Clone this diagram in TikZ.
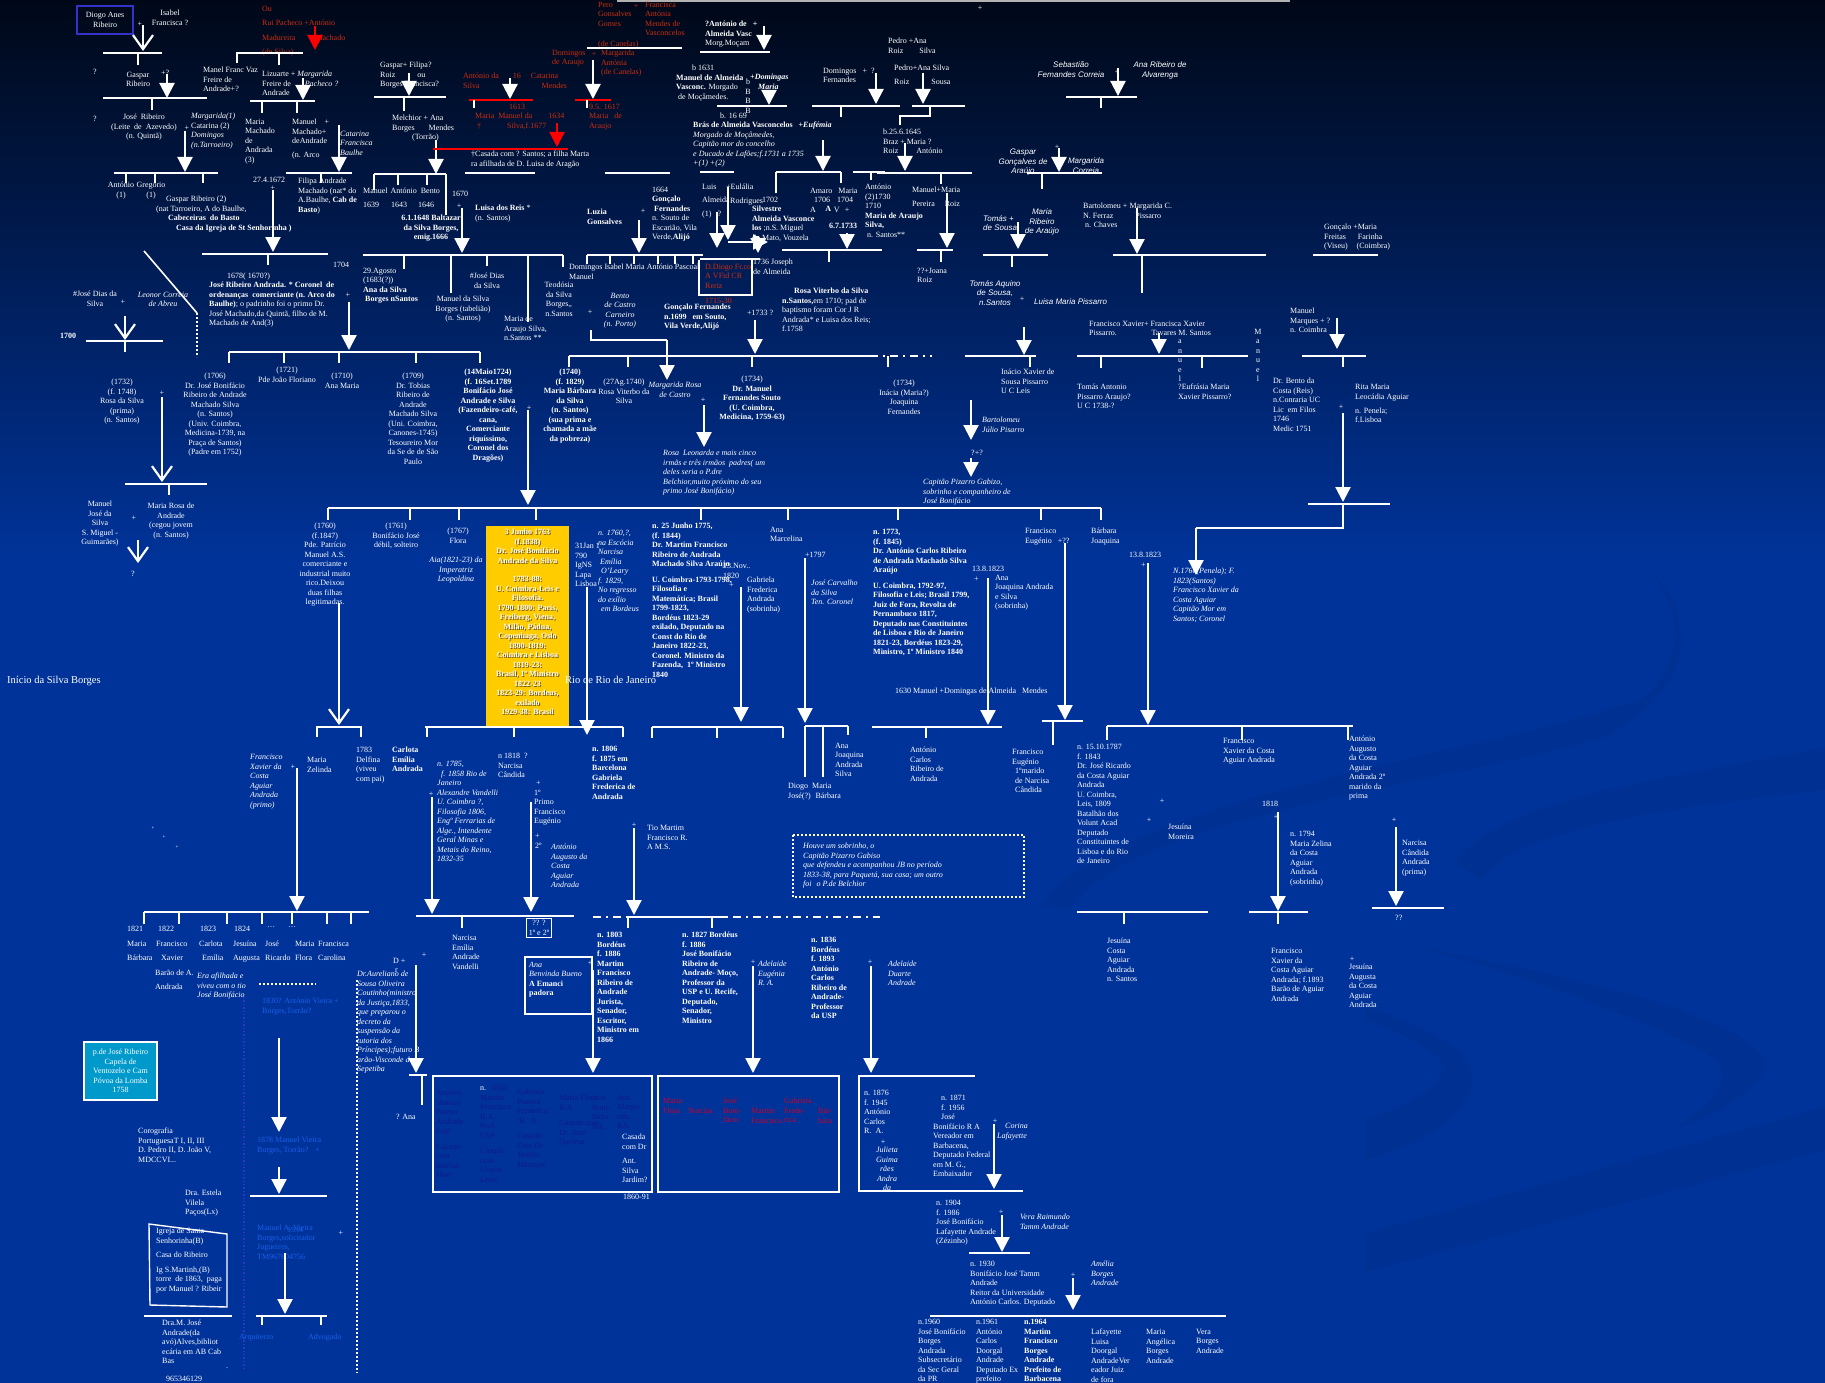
\documentclass[tikz,border=0pt]{standalone}
\usepackage{fontspec}
\setmainfont{Liberation Serif}
\setsansfont{Liberation Sans}
\usetikzlibrary{arrows.meta}
\definecolor{bgtop}{RGB}{0,8,24}
\definecolor{bgblue}{RGB}{0,51,153}
\definecolor{redtxt}{RGB}{205,45,15}
\definecolor{boxred}{RGB}{205,0,40}
\definecolor{navytxt}{RGB}{15,25,140}
\definecolor{vieira}{RGB}{25,95,235}
\definecolor{gold}{RGB}{255,204,0}
\definecolor{capela}{RGB}{0,153,204}
\definecolor{frame}{RGB}{51,51,204}
\definecolor{shadow}{RGB}{110,80,0}
\newcommand{\fs}{\fontsize{8}{9.5}\selectfont}
\newcommand{\famline}[4]{\coordinate (#1-l) at (#2,#4); \coordinate (#1-r) at (#3,#4); \draw[famline] (#1-l) -- (#1-r);}
\newcommand{\drop}[4]{\coordinate (#1-t) at (#2,#3); \coordinate (#1-b) at (#2,#4); \draw[famline] (#1-t) -- (#1-b);}
\newcommand{\desc}[4]{\coordinate (#1-s) at (#2,#3); \coordinate (#1-e) at (#2,#4); \draw[arw] (#1-s) -- (#1-e);}
\newcommand{\vdesc}[4]{\coordinate (#1-s) at (#2,#3); \coordinate (#1-e) at (#2,#4); \draw[varw] (#1-s) -- (#1-e);}
\newcommand{\rdesc}[4]{\coordinate (#1-s) at (#2,#3); \coordinate (#1-e) at (#2,#4); \draw[rarw] (#1-s) -- (#1-e);}
\newcommand{\spouse}[3]{\node[pl] (#1) at (#2,#3) {+};}
\newcommand{\jbtext}{3 Junho 1763\\(f.1838)\\Dr. José Bonifácio\\Andrade da Silva\\[9pt]1783-88:\\U. Coimbra-Leis e\\Filosofia.\\1790-1800: Paris,\\Freiberg, Viena,\\Milão, Pádua,\\Copenhaga, Oslo\\1800-1819:\\Coimbra e Lisboa\\1819-23:\\Brasil, 1º Ministro\\1822-23\\1823-29: Bordeus,\\exilado\\1929-38: Brasil}
\begin{document}
\begin{tikzpicture}[x=1pt,y=-1pt,
  tx/.style={text=white,font=\fs,inner sep=0pt,align=left,anchor=north west},
  tc/.style={tx,align=center,anchor=north},
  tb/.style={font=\fs\bfseries},
  ti/.style={font=\fs\itshape},
  ts/.style={font=\fs\sffamily\itshape},
  tr/.style={text=redtxt},
  nv/.style={text=navytxt},
  vb/.style={text=vieira},
  pl/.style={text=white,font=\fs,inner sep=0pt},
  famline/.style={draw=white,line width=2.2pt},
  arw/.style={white,line width=2.2pt,-{Triangle[length=15pt,width=15pt]}},
  varw/.style={white,line width=2.2pt,-{Straight Barb[length=14pt,width=20pt]}},
  rarw/.style={red,line width=2.2pt,-{Triangle[length=15pt,width=15pt]}},
  boxline/.style={draw=white,line width=2pt}]
\useasboundingbox (0,0) rectangle (1825,1383);
\shade[top color=bgtop,bottom color=bgblue] (0,0) rectangle (1825,560);
\fill[bgblue] (0,559) rectangle (1825,1383);
\fill[black,opacity=.05] (1040,905) .. controls (1120,800) and (1450,760) .. (1640,700) .. controls (1690,660) and (1680,600) .. (1642,563) .. controls (1700,610) and (1700,690) .. (1600,740) .. controls (1400,790) and (1130,820) .. (1070,910) -- cycle;
\fill[black,opacity=.05] (1455,862) .. controls (1500,800) and (1650,780) .. (1825,748) -- (1825,790) .. controls (1650,810) and (1520,830) .. (1480,880) -- cycle;
\fill[black,opacity=.05] (1365,1007) .. controls (1440,1030) and (1500,1060) .. (1460,1110) .. controls (1430,1140) and (1400,1150) .. (1365,1160) -- (1365,1120) .. controls (1420,1100) and (1450,1080) .. (1440,1060) .. controls (1420,1040) and (1390,1030) .. (1365,1020) -- cycle;
\fill[black,opacity=.05] (1365,1233) -- (1825,1107) -- (1825,1150) -- (1365,1272) -- cycle;
\fill[black,opacity=.05] (1415,947) .. controls (1600,980) and (1800,1030) .. (1760,1080) .. controls (1730,1110) and (1700,1120) .. (1672,1130) .. controls (1720,1100) and (1740,1070) .. (1700,1050) .. controls (1600,1000) and (1500,970) .. (1415,947) -- cycle;
\draw[gray!60,line width=1.5pt] (617,1) -- (1290,1);
\node[pl] (topplus) at (980,8) {+};

% Ribeiro line, top left
\node[tc,draw=frame,line width=1.2pt,minimum width=56pt,minimum height=28pt,anchor=center] (diogo) at (105,20) {Diogo Anes\\Ribeiro};
\node[tc] (isabel) at (170,10) {Isabel\\Francisca ?};
\spouse{p-di}{140}{24}
\vdesc{v-di}{143}{25}{51}
\famline{f-di}{103}{162}{53}
\drop{d-di}{138}{53}{65}
\node[tc] (q1) at (95,69) {?};
\node[tc] (gaspar) at (138,72) {Gaspar\\Ribeiro};
\node[tx] (gq) at (161,70) {+?};
\desc{a-ga}{167}{74}{98}
\famline{f-ga}{103}{207}{98}
\drop{d-ga}{152}{98}{110}
\node[tc] (q2) at (95,116) {?};
\node[tc] (joseR) at (144,114) {José \hspace{2pt}Ribeiro\\(Leite \hspace{2pt}de \hspace{2pt}Azevedo)\\(n. Quintã)};
\spouse{p-jr}{187}{128}
\node[tx] (marg) at (191,113) {\textit{Margarida(1)}\\Catarina (2)\\\textit{Domingos}\\\textit{(n.Tarroeiro)}};
\desc{a-jr}{185}{131}{172}
\famline{f-jr}{114}{218}{173}
\foreach \x in {126,155,203} {\drop{d-jr\x}{\x}{173}{183}}
\node[tc] (antonio1) at (121,182) {António\\(1)};
\node[tc] (gregorio) at (151,182) {Gregório\\(1)};
\node[tx] (gaspar2) at (156,196) {\hspace{10pt}Gaspar Ribeiro (2)\\(nat Tarroeiro, A do Baulhe,\\\textbf{\hspace{12pt}Cabeceiras \hspace{2pt}do Basto}\\\textbf{\hspace{20pt}Casa da Igreja de St Senhorinha )}};

\node[tx,tr] (ou) at (262,6) {Ou\\[5pt]Rui Pacheco +António\\[5pt]Madureira \hspace{18pt}Machado\\[5pt](de Silva)};
\rdesc{a-ou}{315}{26}{50}
\coordinate (mf-a) at (237,63); \coordinate (mf-b) at (303,53);
\draw[famline] (mf-a) |- (mf-b);
\drop{d-mf}{279}{53}{65}
\node[tx] (manel) at (203,67) {Manel Franc Vaz\\Freire de\\Andrade+?};
\node[tx] (lizuarte) at (262,71) {Lizuarte + \textit{Margarida}\\Freire de \hspace{12pt}\textit{Pacheco ?}\\Andrade};
\desc{a-li}{303}{78}{100}
\famline{f-li}{250}{315}{101}
\foreach \x in {262,297} {\drop{d-li\x}{\x}{101}{113}}
\node[tx] (mariaM) at (245,119) {Maria\\Machado\\de\\Andrada\\(3)};
\node[tx] (manuelM) at (292,119) {Manuel \hspace{6pt}+\\Machado+\\deAndrade\\[4pt](n. Arco};
\desc{a-mm}{339}{125}{172}
\node[tx,ti] (catarina) at (340,131) {Catarina\\Francisca\\Baulhe};
\famline{f-mm}{286}{352}{173}
\drop{d-mm}{321}{173}{183}
\node[tx] (filipa) at (298,178) {Filipa Andrade\\Machado (nat* do\\A.Baulhe, \textbf{Cab de}\\\textbf{Basto})};
\node[tx] (d1672) at (253,177) {27.4.1672};
\spouse{p-1672}{273}{188}
\desc{a-1672}{273}{190}{252}
\famline{f-1672}{202}{328}{254}
\drop{d-1672}{268}{254}{265}
\node[tx] (y1678) at (227,273) {1678( 1670?)};
\node[tx] (joseRA) at (209,282) {\textbf{José Ribeiro Andrada. * Coronel \hspace{2pt}de}\\\textbf{ordenanças \hspace{2pt}comerciante (n. Arco do}\\\textbf{Baulhe)}; o padrinho foi o primo Dr.\\José Machado,da Quintã, filho de M.\\Machado de And(3)};
\coordinate (diag-a) at (144,251); \coordinate (diag-b) at (197,313); \coordinate (diag-c) at (197,357);
\draw[white,line width=1.6pt] (diag-a) -- (diag-b);
\draw[white,line width=1.6pt,dash pattern=on 1.6pt off 2.4pt] (diag-b) -- (diag-c);
\node[tc] (jdias) at (95,291) {\#José Dias da\\Silva};
\spouse{p-jd}{123}{302}
\node[tc,ti] (leonor) at (163,292) {Leonor Correia\\de Abreu};
\vdesc{v-jd}{125}{316}{340}
\famline{f-jd}{86}{163}{341}
\drop{d-jd}{125}{341}{352}
\node[tx,tb] (y1700) at (60,333) {1700};

% Borges line
\node[tx] (gaspar3) at (380,62) {Gaspar+ Filipa?\\Roiz \hspace{20pt}ou\\Borges Francisca?};
\desc{a-gb}{409}{73}{96}
\famline{f-gb}{374}{446}{97}
\drop{d-gb}{404}{97}{111}
\node[tx] (melchior) at (392,115) {Melchior + Ana\\Borges \hspace{12pt}Mendes\\\hspace{20pt}(Torrão)};
\desc{a-me}{436}{140}{174}
\coordinate (rl-a) at (433,149); \coordinate (rl-b) at (568,149);
\draw[red,line width=2.2pt] (rl-a) -- (rl-b);
\famline{f-me}{374}{446}{174}
\drop{d-me1}{374}{174}{190}
\drop{d-me2}{398}{174}{185}
\drop{d-me3}{427}{174}{185}
\drop{d-me4}{446}{174}{215}
\node[tx] (manant) at (363,188) {Manuel \hspace{1pt}António \hspace{2pt}Bento\\[4pt]1639 \hspace{10pt}1643 \hspace{9pt}1646};
\node[tx] (y1670) at (452,191) {1670};
\spouse{p-1670}{459}{206}
\node[tc,tb] (baltazar) at (431,215) {6.1.1648 Baltazar\\da Silva Borges,\\emig.1666};
\node[tx] (luisa) at (475,205) {\textbf{Luisa dos Reis} *\\(n. Santos)};
\desc{a-ba}{462}{208}{253}
\famline{f-ba}{363}{563}{255}
\drop{d-ba1}{404}{255}{269}
\drop{d-ba2}{451}{255}{293}
\drop{d-ba3}{487}{255}{266}
\drop{d-ba4}{528}{255}{322}
\drop{d-ba5}{563}{255}{267}
\node[tx] (y1704) at (333,262) {1704};
\spouse{p-1704}{348}{295}
\desc{a-1704}{349}{302}{350}
\node[tx] (anaSB) at (363,268) {29.Agosto\\(1683(?))\\\textbf{Ana da Silva}\\\textbf{\hspace{2pt}Borges nSantos}};
\node[tc] (manuelSB) at (463,296) {Manuel da Silva\\Borges (tabelião)\\(n. Santos)};
\node[tc] (jdias2) at (487,273) {\#José Dias\\da Silva};
\node[tx] (mariaAS) at (504,316) {Maria de\\Araujo Silva,\\n.Santos **};
\node[tc] (teodosia) at (559,282) {Teodósia\\da Silva\\Borges,,\\n.Santos};
\famline{f-jra}{229}{480}{352}
\foreach \x in {229,284,339,416,480} {\drop{d-jra\x}{\x}{352}{363}}
\node[tc] (jbonif1) at (215,373) {(1706)\\Dr. José Bonifácio\\Ribeiro de Andrade\\Machado Silva\\(n. Santos)\\(Univ. Coimbra,\\Medicina-1739, na\\Praça de Santos)\\(Padre em 1752)};
\node[tc] (floriano) at (287,367) {(1721)\\Pde João Floriano};
\node[tc] (anamaria) at (342,373) {(1710)\\Ana Maria};
\node[tc] (tobias) at (413,373) {(1709)\\Dr. Tobias\\Ribeiro de\\Andrade\\Machado Silva\\(Uni. Coimbra,\\Canones-1745)\\Tesoureiro Mor\\da Se de de São\\Paulo};
\node[tc,tb] (bonjose) at (488,369) {(14Maio1724)\\(f. 16Set.1789\\Bonifácio José\\Andrade e Silva\\(Fazendeiro-café,\\cana,\\Comerciante\\riquíssimo,\\Coronel dos\\Dragões)};
\node[tc] (rosaS) at (122,379) {(1732)\\(f. 1748)\\Rosa da Silva\\(prima)\\(n. Santos)};
\spouse{p-rs}{162}{393}
\vdesc{v-rs}{162}{397}{482}
\famline{f-rs}{125}{207}{484}
\drop{d-rs}{169}{484}{495}
\node[tc] (manuelJS) at (100,501) {Manuel\\José da\\Silva\\S. Miguel -\\Guimarães)};
\spouse{p-mj}{134}{518}
\node[tc] (mariaRA) at (171,503) {Maria Rosa de\\Andrade\\(cegou jovem\\(n. Santos)};
\vdesc{v-mj}{138}{540}{563}
\node[tc] (q3) at (133,571) {?};
\node[tx,font=\fontsize{10.5}{12}\selectfont] (inacioSB) at (7,676) {Início da Silva Borges};

% Canelas and Almeida, top centre
\node[tx,tr] (pero) at (598,2) {Pero\\Gonsalves\\Gomes};
\node[pl,text=redtxt] (p-pero) at (636,6) {+};
\node[tx,tr] (francisca) at (645,2) {Francisca\\Antónia\\Mendes de\\Vasconcelos};
\node[tx,tr] (canelas1) at (598,41) {(de Canelas)};
\famline{f-pe}{587}{682}{48}
\node[tx,tr] (domingosA) at (552,50) {Domingos\\de Araujo};
\node[pl,text=redtxt] (p-doma) at (594,54) {+};
\node[tx,tr] (margA) at (601,50) {Margarida\\Antónia\\(de Canelas)};
\desc{a-doma}{593}{60}{99}
\node[tx,tr] (antonioS) at (463,73) {António da \hspace{12pt}16 \hspace{8pt}Catarina\\Silva \hspace{60pt}Mendes};
\desc{a-as}{510}{78}{99}
\coordinate (rb1-l) at (469,100); \coordinate (rb1-r) at (533,100);
\coordinate (rb2-l) at (575,100); \coordinate (rb2-r) at (611,100);
\draw[red,line width=2.2pt] (rb1-l) -- (rb1-r);
\draw[red,line width=2.2pt] (rb2-l) -- (rb2-r);
\drop{d-rb1}{474}{100}{108}
\drop{d-rb2}{587}{100}{108}
\node[tx,tr] (manuelS) at (475,104) {\hspace{34pt}1613\\Maria \hspace{2pt}Manuel da \hspace{14pt}1634\\\hspace{2pt}† \hspace{24pt}Silva,f.1677};
\node[tx,tr] (mariaAr) at (589,104) {9.5. 1617\\Maria \hspace{4pt}de\\Araujo};
\rdesc{a-ms}{557}{123}{147}
\node[tx] (casada) at (471,151) {†Casada com ? Santos; a filha Marta\\ra afilhada de D. Luisa de Aragão};
\famline{f-ca1}{465}{535}{173}
\famline{f-ca2}{605}{670}{173}
\node[tx] (antAV) at (705,21) {\textbf{?António de \hspace{4pt}+}\\\textbf{Almeida Vasc}\\Morg.Moçam};
\desc{a-aav}{764}{26}{50}
\famline{f-aav}{700}{770}{52}
\node[tx] (manuelAV) at (676,65) {\hspace{16pt}b 1631\\\textbf{Manuel de Almeida}\\\textbf{Vasconc.} Morgado\\\hspace{2pt}de Moçâmedes.};
\node[tx,font=\fs\bfseries\itshape] (domingas) at (750,74) {+Domingas\\\hspace{8pt}Maria};
\node[tc] (bbb) at (748,79) {b\\B\\B\\B};
\desc{a-mav}{769}{90}{105}
\famline{f-mav}{717}{787}{106}
\node[tx] (b1669) at (720,113) {b. 16 69};
\node[tx] (bras) at (693,122) {\textbf{Brás de Almeida Vasconcelos \hspace{4pt}+\textit{Eufémia}}\\\textit{Morgado de Moçâmedes,}\\\textit{Capitão mor do concelho}\\\textit{e Ducado de Lafões;f.1731 a 1735}\\\textit{+(1) +(2)}};
\famline{f-br}{700}{734}{172}
\node[tx] (luis) at (702,184) {Luis\\[4pt]Almeida\\[4pt](1) \hspace{4pt}?};
\node[tx] (eulalia) at (726,184) {+Eulália\\[4pt]\hspace{4pt}Rodrigues};
\node[tx] (y1702) at (762,197) {1702};
\desc{a-lu1}{717}{212}{248}
\desc{a-lu2}{728}{187}{240}
\coordinate (rt-a) at (728,242); \coordinate (rt-b) at (768,242);
\draw[arw] (rt-a) -- (rt-b);
\desc{a-lu3}{758}{236}{253}
\node[tx] (silvestre) at (752,206) {\textbf{Silvestre \hspace{42pt}A}\\\textbf{Almeida Vasconce}\\\textbf{los} ;n.S. Miguel\\do Mato, Vouzela};
\famline{f-dd}{700}{760}{259}
\coordinate (bx-a) at (699,260); \coordinate (bx-b) at (752,295); \coordinate (bx-c) at (752,259);
\draw[famline] (bx-a) |- (bx-b) -- (bx-c);
\node[tx,tr] (diogoF) at (705,264) {D.Diogo Fr.co\\A VFid CR\\Reriz};
\node[tx,tr] (y1715) at (705,298) {1715-30};
\node[tx] (joseph) at (753,259) {1736 Joseph\\de Almeida};
\famline{f-gf}{587}{703}{255}
\foreach \x in {587,610,634,658,675,693} {\drop{d-gf\x}{\x}{255}{264}}
\node[tx] (domrow) at (569,264) {Domingos Isabel Maria António Pascoal\\Manuel};
\node[tx,tb] (luzia) at (587,209) {Luzia\\Gonsalves};
\node[tx] (goncalo) at (652,187) {1664\\\textbf{Gonçalo}\\\textbf{\hspace{2pt}Fernandes}\\n. Souto de\\Escarião, Vila\\Verde,\textbf{Alijó}};
\spouse{p-go}{643}{211}
\desc{a-go}{639}{220}{253}
\node[tc,ti] (bento) at (620,293) {Bento\\de Castro\\Carneiro\\(n. Porto)};
\spouse{p-be}{590}{312}
\coordinate (be-a) at (591,330); \coordinate (be-b) at (667,340); \coordinate (be-c) at (667,380);
\draw[famline] (be-a) |- (be-b);
\draw[arw] (be-b) -- (be-c);
\node[tx,tb] (goncalo2) at (664,304) {Gonçalo Fernandes\\n.1699 \hspace{4pt}em Souto,\\Vila Verde,Alijó};
\node[tx] (y1733) at (747,310) {+1733 ?};
\desc{a-1733}{755}{320}{354}
\node[tx] (rosaVS) at (782,288) {\hspace{12pt}\textbf{Rosa Viterbo da Silva}\\\textbf{n.Santos,}em 1710; pad de\\baptismo foram Cor J R\\Andrada* e Luisa dos Reis;\\f.1758};
\famline{f-rv}{569}{870}{356}
\coordinate (rvd-a) at (870,356); \coordinate (rvd-b) at (932,356);
\draw[white,line width=2.2pt,dash pattern=on 8pt off 5pt on 2pt off 5pt] (rvd-a) -- (rvd-b);
\foreach \x in {569,628,752,888} {\drop{d-rv\x}{\x}{356}{367}}
\node[tc,tb] (mbarbara) at (570,369) {(1740)\\(f. 1829)\\Maria Bárbara\\da Silva\\(n. Santos)\\(sua prima e\\chamada a mãe\\da pobreza)};
\node[tc] (rosaV) at (624,379) {(27Ag.1740)\\Rosa Viterbo da\\Silva};
\node[tc,ti] (margRC) at (675,382) {Margarida Rosa\\de Castro};
\spouse{p-mr}{703}{400}
\desc{a-mr}{704}{405}{447}
\node[tc] (manuelFS) at (752,376) {(1734)\\\textbf{Dr. Manuel}\\\textbf{Fernandes Souto}\\\textbf{(U. Coimbra,}\\\textbf{Medicina, 1759-63)}};
\node[tx,ti] (rosaL) at (663,450) {Rosa \hspace{2pt}Leonarda e mais cinco\\irmãs e três irmãos \hspace{2pt}padres( um\\deles seria o P.dre\\Belchior,muito próximo do seu\\primo José Bonifácio)};
\node[tc] (inacia) at (904,380) {(1734)\\Inácia (Maria?)\\Joaquina\\Fernandes};
\spouse{p-bj}{529}{408}
\desc{a-bj}{528}{410}{505}

% upper right
\node[tx] (domF) at (823,68) {Domingos \hspace{4pt}+ \hspace{2pt}?\\Fernandes};
\desc{a-df}{876}{73}{104}
\famline{f-df}{812}{900}{106}
\drop{d-df}{841}{106}{117}
\node[tx] (pedro1) at (888,38) {Pedro +Ana\\Roiz \hspace{14pt}Silva};
\node[tx] (pedro2) at (894,65) {Pedro+Ana Silva\\[4pt]Roiz \hspace{20pt}Sousa};
\desc{a-pe}{923}{73}{104}
\famline{f-pe2}{912}{965}{106}
\drop{d-pe}{930}{106}{117}
\coordinate (pc-a) at (930,116); \coordinate (pc-b) at (900,125);
\draw[famline] (pc-a) -| (pc-b);
\node[tx] (braz) at (883,129) {b.25.6.1645\\Braz + Maria ?\\Roiz \hspace{16pt}António};
\desc{a-bz}{905}{143}{171}
\famline{f-bz}{877}{972}{173}
\drop{d-bz}{941}{173}{184}
\node[tx] (manuelP) at (912,187) {Manuel+Maria\\[4pt]Pereira \hspace{8pt}Roiz};
\desc{a-mp}{947}{193}{248}
\famline{f-mp}{917}{953}{250}
\drop{d-mp}{941}{250}{262}
\node[tx] (joana) at (917,268) {??+Joana\\Roiz};
\desc{a-am}{823}{140}{171}
\famline{f-am}{776}{841}{172}
\drop{d-am1}{776}{172}{193}
\drop{d-am2}{841}{172}{183}
\node[tx] (amaro) at (810,188) {Amaro \hspace{4pt}Maria\\\hspace{4pt}1706 \hspace{5pt}1704\\A \hspace{16pt}V \hspace{3pt}+};
\node[tx,tb] (d1733) at (829,223) {6.7.1733};
\desc{a-6733}{847}{233}{249}
\famline{f-6733}{782}{882}{250}
\drop{d-6733}{829}{250}{262}
\famline{f-an}{853}{885}{172}
\drop{d-an}{871}{172}{180}
\node[tx] (mariaAS2) at (865,184) {António\\(2)1730\\1710\\\textbf{Maria de Araujo}\\\textbf{Silva,}\\\hspace{2pt}n. Santos**};
\node[tc,ts] (sebastiao) at (1071,62) {Sebastião\\Fernandes Correia};
\spouse{p-se}{1117}{72}
\node[tc,ts] (anaRA) at (1160,62) {Ana Ribeiro de\\Alvarenga};
\desc{a-se}{1118}{68}{96}
\famline{f-se}{1066}{1137}{97}
\drop{d-se}{1101}{97}{108}
\node[tc,ts] (gasparGA) at (1023,149) {Gaspar\\Gonçalves de\\Araújo};
\node[tc,ts] (margC) at (1086,158) {Margarida\\Correia};
\spouse{p-gg}{1057}{147}
\desc{a-gg}{1059}{148}{172}
\famline{f-gg}{1027}{1102}{173}
\drop{d-gg}{1042}{173}{189}
\node[tx,ts] (tomasS) at (983,215) {Tomás +\\de Sousa};
\node[tc,ts] (mariaRA2) at (1042,209) {Maria\\Ribeiro\\de Araújo};
\desc{a-ts}{1018}{222}{249}
\famline{f-ts}{983}{1048}{255}
\drop{d-ts}{1012}{255}{267}
\node[tx] (bartolomeu) at (1083,203) {Bartolomeu + Margarida C.\\N. Ferraz \hspace{20pt}Pissarro\\\hspace{2pt}n. Chaves};
\desc{a-bt}{1137}{208}{254}
\famline{f-bt}{1113}{1266}{255}
\drop{d-bt}{1142}{255}{293}
\node[tc,ts] (tomasAS) at (995,280) {Tomás Aquino\\de Sousa,\\n.Santos};
\spouse{p-ta}{1022}{299}
\node[tx,ts] (luisaMP) at (1034,299) {Luisa Maria Pissarro};
\desc{a-ta}{1024}{327}{355}
\famline{f-ta}{965}{1036}{356}
\drop{d-ta}{1030}{356}{367}
\node[tx] (inacioX) at (1001,369) {Inácio Xavier de\\Sousa Pissarro\\U C Leis};
\desc{a-ix}{971}{400}{440}
\node[tx,ti] (bartJP) at (982,417) {Bartolomeu\\Júlio Pisarro};
\node[tx] (qq) at (971,450) {?+?};
\desc{a-qq}{971}{458}{477}
\node[tx,ti] (capitao) at (923,479) {Capitão Pizarro Gabizo,\\sobrinho e companheiro de\\José Bonifácio};
\node[tx] (fxavier) at (1089,321) {Francisco Xavier+ Francisca Xavier\\Pissarro. \hspace{32pt}Tavares M. Santos};
\desc{a-fx}{1159}{333}{354}
\famline{f-fx}{1077}{1248}{356}
\foreach \x in {1101,1202} {\drop{d-fx\x}{\x}{356}{368}}
\node[tc] (manv1) at (1180,340) {a\\n\\u\\e\\l};
\node[tc] (manv2) at (1258,329) {M\\a\\n\\u\\e\\l};
\node[tx] (tomasAP) at (1077,384) {Tomás Antonio\\Pissarro Araujo?\\U C 1738-?};
\node[tx] (eufrasia) at (1178,384) {?Eufrásia Maria\\Xavier Pissarro?};
\node[tx] (goncaloF) at (1324,224) {Gonçalo +Maria\\Freitas \hspace{10pt}Farinha\\(Viseu) \hspace{7pt}(Coimbra)};
\famline{f-gm}{1313}{1378}{255}
\node[tx] (manuelMq) at (1290,308) {Manuel\\Marques + ?\\n. Coimbra};
\desc{a-mq}{1337}{318}{349}
\famline{f-mq}{1302}{1366}{356}
\drop{d-mq}{1343}{356}{367}
\node[tx] (bentoC) at (1273,378) {Dr. Bento da\\Costa (Reis)\\n.Conraria UC\\Lic \hspace{2pt}em Filos\\1746\\Medic 1751};
\node[tx] (ritaM) at (1355,384) {Rita Maria\\Leocádia Aguiar\\[5pt]n. Penela;\\f.Lisboa};
\spouse{p-bc}{1341}{407}
\desc{a-bc}{1343}{413}{502}
\famline{f-bc}{1308}{1390}{504}
\coordinate (bc-a) at (1343,504); \coordinate (bc-b) at (1196,528); \coordinate (bc-c) at (1196,575);
\draw[famline] (bc-a) |- (bc-b);
\draw[arw] (bc-b) -- (bc-c);
\node[tx,ti] (fxcosta) at (1173,568) {N.1760(Penela); F.\\1823(Santos)\\Francisco Xavier da\\Costa Aguiar\\Capitão Mor em\\Santos; Coronel};

% children of Bonifacio Jose
\famline{f-bo}{328}{1101}{508}
\foreach \x in {328,410,459,536,701,788,898,1041,1101} {\drop{d-bo\x}{\x}{508}{520}}
\node[tc] (patricio) at (325,523) {(1760)\\(f.1847)\\Pde. Patrício\\Manuel A.S.\\comerciante e\\industrial muito\\rico.Deixou\\duas filhas\\legitimadas.};
\node[tc] (bonif2) at (396,523) {(1761)\\Bonifácio José\\débil, solteiro};
\node[tc] (flora) at (458,528) {(1767)\\Flora};
\node[tc,ti] (aia) at (456,557) {Aia(1821-23) da\\Imperatriz\\Leopoldina};
\fill[gold] (486,526) rectangle (569,726);
\node[tc,tb,text=shadow] (jbonifsh) at (528.4,529.8) {\jbtext};
\node[tc,tb] (jbonif) at (527.5,529) {\jbtext};
\node[tx] (lapa) at (575,543) {31Jan 1\\790\\IgNS\\Lapa\\Lisboa};
\desc{a-la}{587}{587}{735}
\node[tx,ti] (narcisaO) at (598,530) {n. 1760,?,\\na Escócia\\Narcisa\\\hspace{2pt}Emília\\\hspace{3pt}O'Leary\\f. 1829,\\No regresso\\do exílio\\\hspace{3pt}em Bordeus};
\node[tx,font=\fontsize{10.5}{12}\selectfont] (riorj) at (565,676) {Rio de Rio de Janeiro};
\node[tx,tb] (martim1) at (652,523) {n. 25 Junho 1775,\\(f. 1844)\\Dr. Martim Francisco\\Ribeiro de Andrada\\Machado Silva Araújo\\[6pt]U. Coimbra-1793-1798,\\Filosofia e\\Matemática; Brasil\\1799-1823,\\Bordéus 1823-29\\exilado, Deputado na\\Const do Rio de\\Janeiro 1822-23,\\Coronel. Ministro da\\Fazenda, \hspace{2pt}1º Ministro\\1840};
\node[tx] (nov1820) at (723,563) {13.Nov..\\1820\\\hspace{6pt}+};
\node[tx] (gabriela1) at (747,577) {Gabriela\\Frederica\\Andrada\\(sobrinha)};
\desc{a-gb1}{741}{587}{722}
\famline{f-mt}{652}{783}{727}
\foreach \x in {652,717,783} {\drop{d-mt\x}{\x}{727}{738}}
\node[tx] (anaMa) at (770,527) {Ana\\Marcelina};
\node[tx] (p1797) at (805,552) {+1797};
\desc{a-1797}{805}{558}{723}
\node[tx,ti] (joseCS) at (811,580) {José Carvalho\\da Silva\\Ten. Coronel};
\famline{f-am2}{805}{848}{726}
\drop{d-am2a}{805}{726}{777}
\drop{d-am2b}{823}{726}{777}
\drop{d-am2c}{848}{726}{735}
\node[tx] (anaJAS) at (835,743) {Ana\\Joaquina\\Andrada\\Silva};
\node[tx] (diogoMB) at (788,783) {Diogo \hspace{2pt}Maria\\José(?) \hspace{2pt}Bárbara};
\node[tx,tb] (antonioC1) at (873,529) {n. 1773,\\(f. 1845)\\Dr. António Carlos Ribeiro\\de Andrada Machado Silva\\Araújo\\[6pt]U. Coimbra, 1792-97,\\Filosofia e Leis; Brasil 1799,\\Juiz de Fora, Revolta de\\Pernambuco 1817,\\Deputado nas Constituintes\\de Lisboa e Rio de Janeiro\\1821-23, Bordéus 1823-29,\\Ministro, 1º Ministro 1840};
\node[tx] (manuelDA) at (895,688) {1630 Manuel +Domingas de Almeida \hspace{4pt}Mendes};
\node[tx] (d1823a) at (972,566) {13.8.1823\\\hspace{2pt}+};
\desc{a-1823a}{988}{578}{725}
\node[tx] (anaJAS2) at (995,575) {Ana\\Joaquina Andrada\\e Silva\\(sobrinha)};
\famline{f-ac}{872}{1002}{727}
\drop{d-ac}{926}{727}{738}
\node[tx] (antonioCRA) at (910,747) {António\\Carlos\\Ribeiro de\\Andrada};
\node[tx] (fe1) at (1025,528) {Francisco\\Eugénio \hspace{4pt}+??};
\desc{a-fe}{1065}{543}{720}
\famline{f-fe}{1042}{1083}{721}
\drop{d-fe}{1053}{721}{745}
\node[tx] (fe2) at (1012,749) {Francisco\\Eugénio\\\hspace{3pt}1ºmarido\\\hspace{3pt}de Narcisa\\\hspace{3pt}Cândida};
\node[tx] (barbaraJ) at (1091,528) {Bárbara\\Joaquina};
\node[tx] (d1823b) at (1129,552) {13.8.1823\\\hspace{12pt}+};
\desc{a-1823b}{1148}{563}{725}
\famline{f-bq}{1107}{1353}{726}
\foreach \x in {1107,1242,1348} {\drop{d-bq\x}{\x}{726}{740}}
\node[tx] (joseRC) at (1077,744) {n. 15.10.1787\\f. 1843\\Dr. José Ricardo\\da Costa Aguiar\\Andrada\\U. Coimbra,\\Leis, 1809\\Batalhão dos\\Volunt Acad\\Deputado\\Constituintes de\\Lisboa e do Rio\\de Janeiro};
\spouse{p-jrc1}{1162}{801}
\spouse{p-jrc2}{1149}{820}
\node[tx] (jesuinaM) at (1168,824) {Jesuína\\Moreira};
\node[tx] (fxcaa) at (1223,738) {Francisco\\Xavier da Costa\\Aguiar Andrada};
\node[tx] (antonioAA) at (1349,736) {António\\Augusto\\da Costa\\Aguiar\\Andrada 2º\\marido da\\prima};
\node[tx] (y1818) at (1262,801) {1818};
\spouse{p-1818}{1276}{817}
\desc{a-1818}{1278}{812}{911}
\node[tx] (mariaZC) at (1290,831) {n. 1794\\Maria Zelina\\da Costa\\Aguiar\\Andrada\\(sobrinha)};
\famline{f-jc}{1077}{1208}{912}
\drop{d-jc}{1124}{912}{924}
\famline{f-fb}{1249}{1308}{912}
\drop{d-fb}{1278}{912}{924}
\spouse{p-nc}{1394}{820}
\desc{a-nc}{1396}{827}{906}
\node[tx] (narcisaCA) at (1402,840) {Narcisa\\Cândida\\Andrada\\(prima)};
\famline{f-nc}{1372}{1444}{908}
\node[tx] (qq2) at (1395,915) {??};
\node[tx] (jesuinaCA) at (1107,938) {Jesuína\\Costa\\Aguiar\\Andrada\\n. Santos};
\node[tx] (fxbarao) at (1271,948) {Francisco\\Xavier da\\Costa Aguiar\\Andrada; f.1893\\Barão de Aguiar\\Andrada};
\spouse{p-ja}{1352}{959}
\node[tx] (jesuinaAA) at (1349,964) {Jesuína\\Augusta\\da Costa\\Aguiar\\Andrada};

% Patricio's daughters and grandchildren
\vdesc{v-pp}{339}{603}{725}
\coordinate (pp-a) at (317,737); \coordinate (pp-b) at (339,727); \coordinate (pp-c) at (361,737);
\draw[famline] (pp-a) |- (pp-b) -| (pp-c);
\node[tx,ti] (fxprimo) at (250,754) {Francisco\\Xavier da\\Costa\\Aguiar\\Andrada\\(primo)};
\spouse{p-fx}{293}{767}
\desc{a-fx2}{297}{768}{911}
\node[tx] (mariaZ) at (307,757) {Maria\\Zelinda};
\node[tx] (delfina) at (356,747) {1783\\Delfina\\(viveu\\com pai)};
\node[tx,tb] (carlotaEA) at (392,747) {Carlota\\Emília\\Andrada};
\node[pl,font=\tiny] (sp1) at (153,828) {+};
\node[pl,font=\tiny] (sp2) at (164,837) {+};
\node[pl,font=\tiny] (sp3) at (177,847) {+};
\node[tx,ti] (vandelli) at (437,761) {n. 1785,\\\hspace{4pt}f. 1858 Rio de\\Janeiro\\Alexandre Vandelli\\U. Coimbra ?,\\Filosofia 1806,\\Engº Ferrarias de\\Alge., Intendente\\Geral Minas e\\Metais do Reino,\\1832-35};
\spouse{p-va}{431}{794}
\desc{a-va}{432}{797}{914}
\famline{f-jb}{425}{623}{727}
\foreach \x in {427,514,623} {\drop{d-jb\x}{\x}{727}{737}}
\famline{f-pz}{144}{369}{912}
\foreach \x in {144,179,227,262,292,327,351} {\drop{d-pz\x}{\x}{912}{924}}
\famline{f-va}{416}{574}{916}
\drop{d-va}{462}{916}{928}
\node[tc,draw=white,line width=1.2pt,inner sep=2pt] (casam) at (539,918) {?? ?\\1º e 2º};
\node[tx] (narcisa1818) at (498,753) {n 1818 \hspace{2pt}?\\Narcisa\\Cândida};
\node[tx] (primoFE) at (534,781) {\hspace{2pt}+\\1º\\Primo\\Francisco\\Eugénio};
\node[tx] (segundo) at (535,834) {+\\2º};
\node[tx,ti] (antonioAC) at (551,844) {António\\Augusto da\\Costa\\Aguiar\\Andrada};
\desc{a-nc2}{531}{802}{912}
\node[tx,tb] (gabrielaFA) at (592,746) {n. 1806\\f. 1875 em\\Barcelona\\Gabriela\\Frederica de\\Andrada};
\node[tx] (tioMF) at (647,825) {Tio Martim\\Francisco R.\\A M.S.};
\spouse{p-tm}{634}{825}
\desc{a-tm}{634}{828}{915}
\coordinate (dd-a) at (593,917); \coordinate (dd-b) at (880,917);
\coordinate (ds-a) at (628,917); \coordinate (ds-b) at (727,917);
\draw[white,line width=2pt,dash pattern=on 8pt off 5pt on 2pt off 5pt] (dd-a) -- (dd-b);
\draw[famline] (ds-a) -- (ds-b);
\foreach \x in {628,712} {\drop{d-mf\x}{\x}{917}{928}}
\draw[white,line width=1.6pt,dash pattern=on 1.6pt off 2.4pt] (793,835) rectangle (1024,897);
\node[tx,ti] (houve) at (803,843) {Houve um sobrinho, o\\Capitão Pizarro Gabiso\\que defendeu e acompanhou JB no período\\1833-38, para Paquetá, sua casa; um outro\\foi \hspace{3pt}o P.de Belchior};

% bottom left
\foreach \x/\y in {127/1821,158/1822,200/1823,234/1824} {\node[tx] (yr\x) at (\x,926) {\y};}
\node[tx] (yr267) at (267,926) {\dots};
\node[tx] (yr288) at (288,926) {\dots};
\node[tx] (c1) at (127,941) {Maria\\[4pt]Bárbara};
\node[tx] (c2) at (156,941) {Francisco\\[4pt]\hspace{5pt}Xavier};
\node[tx] (c3) at (199,941) {Carlota\\[4pt]\hspace{3pt}Emília};
\node[tx] (c4) at (233,941) {Jesuína\\[4pt]Augusta};
\node[tx] (c5) at (265,941) {José\\[4pt]Ricardo};
\node[tx] (c6) at (295,941) {Maria\\[4pt]Flora};
\node[tx] (c7) at (318,941) {Francisca\\[4pt]Carolina};
\node[tx] (baraoA) at (155,970) {Barão de A.\\[4pt]Andrada};
\node[tx,ti] (afilhada) at (197,973) {Era afilhada e\\viveu com o tio\\José Bonifácio};
\draw[white,line width=1.6pt,dash pattern=on 1.6pt off 2.4pt] (259,984) -- (316,984);
\draw[frame,line width=1.4pt,dash pattern=on 1.4pt off 2pt] (244,997) -- (244,1370);
\node[tx,vb] (vieira1) at (262,998) {1830? António Vieira +\\Borges,Torrão?};
\desc{a-vi1}{279}{1038}{1132}
\node[tx,vb] (vieira2) at (257,1137) {1878 Manuel Vieira\\Borges, Torrão? \hspace{4pt}+};
\desc{a-vi2}{279}{1167}{1194}
\famline{f-vi2}{250}{327}{1196}
\node[tx,vb] (y1934) at (287,1227) {1934};
\node[tx,vb] (vieira3) at (257,1225) {Manuel A. Vieira\\Borges,solicitador\\Jugueiros,\\TM967604756};
\spouse{p-vi3}{341}{1233}
\desc{a-vi3}{285}{1253}{1314}
\famline{f-vi3}{256}{327}{1316}
\foreach \x in {262,321} {\drop{d-vi\x}{\x}{1316}{1325}}
\node[tx,vb] (arq) at (239,1334) {Arquitecto};
\node[tx,vb] (adv) at (308,1334) {Advogado};
\node[tc,fill=capela,draw=white,line width=1.4pt,minimum width=73pt,minimum height=58pt,anchor=center,inner sep=1pt] (capela) at (120.5,1071) {p.de José Ribeiro\\Capela de\\Ventozelo e Cam\\Póvoa da Lomba\\1758};
\node[tx] (corog) at (138,1128) {Corografia\\PortuguesaT I, II, III\\D. Pedro II, D. João V,\\MDCCVI...};
\node[tx] (estela) at (185,1190) {Dra. Estela\\Vilela\\Paços(Lx)};
\draw[white,line width=1.4pt] (149,1224) -- (227,1234) -- (227,1307) -- (150,1305) -- cycle;
\node[tx] (igreja) at (156,1228) {Igreja de Santa\\Senhorinha(B)\\[5pt]Casa do Ribeiro\\[5pt]Ig S.Martinh,(B)\\torre \hspace{2pt}de 1863, \hspace{2pt}paga\\por Manuel ? Ribeir};
\famline{f-ig}{144}{232}{1316}
\node[tx] (mjose) at (162,1320) {Dra.M. José\\Andrade(da\\avó)Alves,bibliot\\ecária em AB Cab\\Bas};
\node[tx] (tel) at (166,1376) {965346129};
\node[pl] (dot1) at (227,1368) {.};
\node[tx] (dr) at (393,958) {D +\\\hspace{2pt}r};
\spouse{p-dr}{424}{955}
\node[tx,ti] (aureliano) at (357,971) {Dr.Aureliano de\\Sousa Oliveira\\Coutinho(ministro\\da Justiça,1833,\\que preparou o\\decreto da\\suspensão da\\tutoria dos\\Príncipes);futuro B\\arão-Visconde de\\Sepetiba};
\draw[white,line width=1.6pt,dash pattern=on 1.6pt off 2.4pt] (357,980) -- (357,1373);
\desc{a-au}{416}{965}{1073}
\famline{f-au}{409}{427}{1075}
\drop{d-au}{422}{1075}{1105}
\node[tx] (anaQ) at (396,1114) {? Ana};
\node[tx] (narcisaEV) at (452,935) {Narcisa\\Emília\\Andrade\\Vandelli};

% Martim Francisco, Jose Bonifacio moco, Antonio Carlos
\node[tx,draw=white,line width=2pt,minimum width=67pt,minimum height=57pt,inner sep=0pt] (anaBB) at (524,956) {};
\node[tx] (anaBBt) at (529,962) {\textit{Ana}\\\textit{Benvinda Bueno}\\\textbf{A Emanci}\\\textbf{padora}};
\spouse{p-ab}{590}{963}
\desc{a-ab}{593}{970}{1073}
\node[tx,tb] (martim3) at (597,932) {n. 1803\\Bordéus\\f. 1886\\Martim\\Francisco\\Ribeiro de\\Andrade\\Jurista,\\Senador,\\Escritor,\\Ministro em\\1866};
\node[tx,tb] (jbmoco) at (682,932) {n. 1827 Bordéus\\f. 1886\\José Bonifácio\\Ribeiro de\\Andrade- Moço,\\Professor da\\USP e U. Recife,\\Deputado,\\Senador,\\Ministro};
\spouse{p-ae}{753}{962}
\node[tx,ti] (adelaideE) at (758,961) {Adelaide\\Eugénia\\R. A.};
\desc{a-ae}{753}{966}{1073}
\node[tx,tb] (antonioC2) at (811,937) {n. 1836\\Bordéus\\f. 1893\\António\\Carlos\\Ribeiro de\\Andrade-\\Professor\\da USP};
\spouse{p-ad}{870}{962}
\desc{a-ad}{871}{966}{1073}
\node[tx,ti] (adelaideD) at (888,961) {Adelaide\\Duarte\\Andrade};
\draw[boxline] (433,1076) rectangle (652,1192);
\draw[boxline] (658,1076) rectangle (839,1192);
\coordinate (bc3-a) at (975,1076); \coordinate (bc3-b) at (859,1191); \coordinate (bc3-c) at (1023,1191);
\draw[boxline] (bc3-a) -| (bc3-b) -- (bc3-c);
\node[tx,nv] (amba) at (436,1090) {António\\Manuel\\Bueno\\Andrade\\Engº\\[6pt]\textit{Casado}\\\textit{com}\\\textit{Idalina}\\\textit{Huet}};
\node[tx,nv] (mfba) at (480,1085) {\textcolor{white}{n.} \hspace{2pt}1850\\Martim\\Francisco\\B.A.\\Prof.\\USP\\[6pt]\textit{Casado}\\\textit{com}\\\textit{Ursula}\\\textit{Leme}};
\node[tx,nv] (gfba) at (517,1089) {Gabriela\\Poetisa\\Frederica\\\hspace{2pt}B. \hspace{2pt}A\\[6pt]\textit{Casada}\\\textit{Com Dr.}\\\textit{Teófilo}\\\textit{Marques}};
\node[tx,nv] (mflba) at (559,1095) {Maria Flora\\B A\\[6pt]\textit{Casada com}\\\textit{Dr. José}\\\textit{Queiroz}};
\node[tx,nv] (jbba) at (592,1095) {José\\Boni-\\fácio\\BA.};
\node[tx,nv] (amrba) at (617,1095) {Ana\\Marga-\\rida\\BA.};
\node[tx] (jardim) at (622,1134) {Casada\\com Dr\\[5pt]Ant.\\Silva\\Jardim?};
\node[tx] (y1860) at (623,1194) {1860-91};
\node[tx,text=boxred] (r1) at (663,1098) {Maria\\Flora};
\node[tx,text=boxred] (r2) at (688,1108) {Narcisa};
\node[tx,text=boxred] (r3) at (723,1098) {José\\Boni-\\fácio};
\node[tx,text=boxred] (r4) at (751,1108) {Martim\\Francisco};
\node[tx,text=boxred] (r5) at (784,1098) {Gabriela\\Frede-\\rica};
\node[tx,text=boxred] (r6) at (818,1108) {Bár-\\bara};
\node[tx] (antonioC3) at (864,1090) {n. 1876\\f. 1945\\António\\Carlos\\R. \hspace{2pt}A.};
\spouse{p-ju}{883}{1142}
\node[tc,ti] (julieta) at (887,1147) {Julieta\\Guima\\rães\\Andra\\da};
\node[tx] (jbra) at (933,1095) {\hspace{8pt}n. 1871\\\hspace{8pt}f. 1956\\\hspace{8pt}José\\Bonifácio R A\\Vereador em\\Barbacena,\\Deputado Federal\\em M. G.,\\Embaixador};
\spouse{p-co}{995}{1121}
\desc{a-co}{994}{1124}{1189}
\node[tx,ti] (corina) at (997,1123) {\hspace{8pt}Corina\\Lafayette};
\node[tx] (zezinho) at (936,1200) {n. 1904\\f. 1986\\José Bonifácio\\Lafayette Andrade\\(Zézinho)};
\spouse{p-ve}{1001}{1212}
\desc{a-ve}{1002}{1215}{1252}
\famline{f-ve}{969}{1030}{1253}
\node[tx,ti] (veraRT) at (1020,1214) {Vera Raimundo\\Tamm Andrade};
\node[tx] (bjtamm) at (970,1261) {n. 1930\\Bonifácio José Tamm\\Andrade\\Reitor da Universidade\\António Carlos. Deputado};
\spouse{p-amb}{1073}{1275}
\desc{a-amb}{1073}{1278}{1310}
\node[tx,ti] (ameliaBA) at (1091,1261) {Amélia\\Borges\\Andrade};
\famline{f-amb}{930}{1226}{1316}
\node[tx] (g1) at (918,1319) {n.1960\\José Bonifácio\\Borges\\Andrada\\Subsecretário\\da Sec Geral\\da PR};
\node[tx] (g2) at (976,1319) {n.1961\\António\\Carlos\\Doorgal\\Andrade\\Deputado Ex\\prefeito};
\node[tx,tb] (g3) at (1024,1319) {n.1964\\Martim\\Francisco\\Borges\\Andrade\\Prefeito de\\Barbacena};
\node[tx] (g4) at (1091,1329) {Lafayette\\Luisa\\Doorgal\\AndradeVer\\eador Juiz\\de fora};
\node[tx] (g5) at (1146,1329) {Maria\\Angélica\\Borges\\Andrade};
\node[tx] (g6) at (1196,1329) {Vera\\Borges\\Andrade};
\end{tikzpicture}
\end{document}
